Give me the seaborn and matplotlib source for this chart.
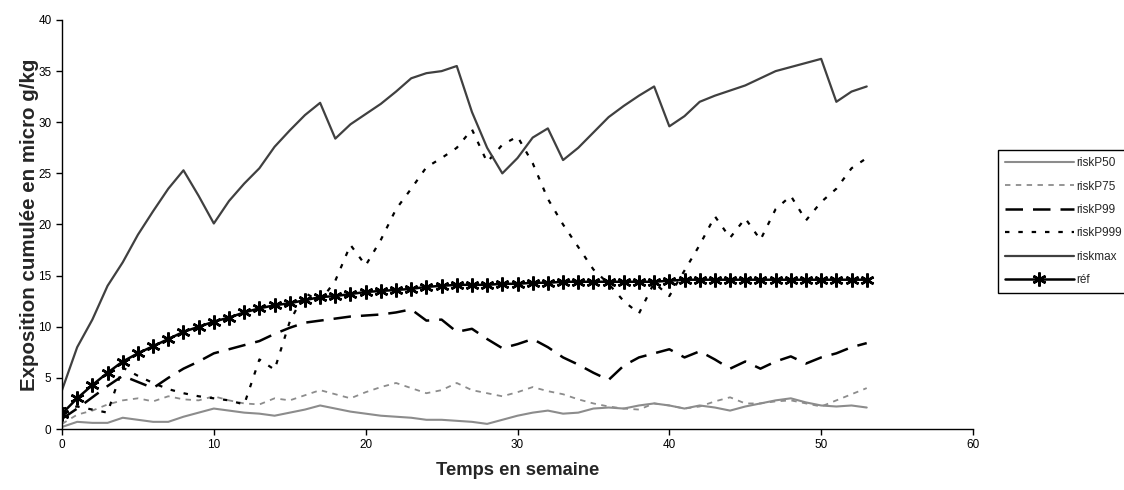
import matplotlib
matplotlib.use("Agg")
import matplotlib.pyplot as plt
import seaborn as sns
import numpy as np

weeks = list(range(54))

risk_p50 = [0.2, 0.7, 0.6, 0.6, 1.1, 0.9, 0.7, 0.7, 1.2, 1.6, 2.0, 1.8, 1.6, 1.5, 1.3, 1.6, 1.9, 2.3, 2.0, 1.7,
            1.5, 1.3, 1.2, 1.1, 0.9, 0.9, 0.8, 0.7, 0.5, 0.9, 1.3, 1.6, 1.8, 1.5, 1.6, 2.0, 2.1, 2.0, 2.3, 2.5,
            2.3, 2.0, 2.3, 2.1, 1.8, 2.2, 2.5, 2.8, 3.0, 2.6, 2.3, 2.2, 2.3, 2.1]
risk_p75 = [0.5, 1.4, 1.8, 2.4, 2.8, 3.0, 2.7, 3.2, 2.9, 2.8, 3.2, 2.8, 2.5, 2.4, 3.0, 2.8, 3.3, 3.8, 3.4, 3.0,
            3.6, 4.1, 4.5, 4.0, 3.5, 3.8, 4.5, 3.8, 3.5, 3.2, 3.6, 4.1, 3.7, 3.4, 2.9, 2.5, 2.2, 2.0, 1.9, 2.5,
            2.3, 2.0, 2.2, 2.7, 3.1, 2.5, 2.5, 2.7, 2.8, 2.5, 2.2, 2.8, 3.4, 4.0]
risk_p99 = [1.0, 2.0, 3.1, 4.2, 5.2, 4.6, 4.0, 5.0, 5.9, 6.6, 7.4, 7.8, 8.2, 8.6, 9.3, 9.9, 10.4, 10.6, 10.8, 11.0,
            11.1, 11.2, 11.4, 11.7, 10.6, 10.7, 9.5, 9.8, 8.8, 7.9, 8.3, 8.8, 8.0, 7.0, 6.3, 5.5, 4.8, 6.2, 7.0, 7.4,
            7.8, 7.0, 7.6, 6.8, 5.9, 6.6, 5.9, 6.6, 7.1, 6.4, 7.0, 7.4, 8.0, 8.4]
risk_p999 = [2.0, 2.2, 1.9, 1.6, 6.0, 5.2, 4.5, 3.9, 3.5, 3.2, 3.0, 2.8, 2.4, 6.8, 5.8, 10.5, 13.3, 12.5, 14.5, 18.0,
             16.0, 18.5, 21.5, 23.5, 25.6, 26.5, 27.5, 29.3, 26.1, 27.8, 28.6, 26.0, 22.5, 20.0, 17.8, 15.6, 14.2, 12.5, 11.3, 14.3,
             13.0, 15.5, 18.0, 20.8, 18.7, 20.6, 18.5, 21.5, 22.8, 20.4, 22.2, 23.5, 25.5, 26.5]
risk_max = [3.8, 8.0, 10.7, 14.0, 16.3, 19.0, 21.3, 23.5, 25.3, 22.8, 20.1, 22.3, 24.0, 25.5, 27.6, 29.2, 30.7, 31.9, 28.4, 29.8,
            30.8, 31.8, 33.0, 34.3, 34.8, 35.0, 35.5, 31.0, 27.5, 25.0, 26.5, 28.5, 29.4, 26.3, 27.5, 29.0, 30.5, 31.6, 32.6, 33.5,
            29.6, 30.6, 32.0, 32.6, 33.1, 33.6, 34.3, 35.0, 35.4, 35.8, 36.2, 32.0, 33.0, 33.5]
ref = [1.5, 3.0, 4.3, 5.5, 6.6, 7.4, 8.1, 8.8, 9.5, 10.0, 10.5, 10.9, 11.4, 11.8, 12.1, 12.3, 12.6, 12.9, 13.0, 13.2,
       13.4, 13.5, 13.6, 13.7, 13.9, 14.0, 14.1, 14.1, 14.1, 14.2, 14.2, 14.3, 14.3, 14.4, 14.4, 14.4, 14.4, 14.4, 14.4, 14.4,
       14.5, 14.6, 14.6, 14.6, 14.6, 14.6, 14.6, 14.6, 14.6, 14.6, 14.6, 14.6, 14.6, 14.6]

series_names = ["riskP50", "riskP75", "riskP99", "riskP999", "riskmax", "réf"]
x_ticks = [0, 10, 20, 30, 40, 50, 60]
y_ticks = [0, 5, 10, 15, 20, 25, 30, 35, 40]

sns.set_theme(style="ticks")
plt.rcParams["font.family"] = ["Liberation Sans", "DejaVu Sans"]

fig = plt.figure(figsize=(11.24, 4.90), dpi=100)
ax = fig.add_axes([62 / 1124, 1 - 429 / 490, (973 - 62) / 1124, (429 - 20) / 490])

styles = [
    dict(color="#8c8c8c", linestyle="-", linewidth=1.5),
    dict(color="#8c8c8c", linestyle=(0, (3, 3)), linewidth=1.3),
    dict(color="black", linestyle=(0, (7, 4)), linewidth=1.8),
    dict(color="black", linestyle=(0, (2, 4)), linewidth=1.6),
    dict(color="#404040", linestyle="-", linewidth=1.6),
    dict(color="black", linestyle="-", linewidth=1.8, marker=(6, 2, 0), markersize=10,
         markeredgewidth=1.8, markeredgecolor="black"),
]
data = [risk_p50, risk_p75, risk_p99, risk_p999, risk_max, ref]

for name, vals, st in zip(series_names, data, styles):
    sns.lineplot(x=weeks, y=vals, ax=ax, label=name, sort=False, errorbar=None, **st)

ax.set_xlim(0, 60)
ax.set_ylim(0, 40)
ax.set_xticks(x_ticks)
ax.set_yticks(y_ticks)
ax.tick_params(axis="both", labelsize=8.5, length=4, width=1, color="black", labelcolor="black", direction="out")
for s in ["left", "bottom"]:
    ax.spines[s].set_color("black")
    ax.spines[s].set_linewidth(1)
sns.despine(ax=ax)

ax.set_xlabel("Temps en semaine", fontsize=13.2, fontweight="bold")
ax.set_ylabel("Exposition cumulée en micro g/kg", fontsize=14.8, fontweight="bold")
ax.xaxis.set_label_coords(0.5, -(462 - 429) / 409)
ax.yaxis.set_label_coords(-(62 - 39) / 911, 0.5)

handles, labels = ax.get_legend_handles_labels()
leg = fig.legend(handles, labels, loc="upper left", bbox_to_anchor=(998 / 1124, 1 - 150 / 490),
                 fontsize=8.5, frameon=True, fancybox=False, edgecolor="black", framealpha=1,
                 handlelength=5.8, handletextpad=0.2, labelspacing=0.97, borderpad=0.6,
                 borderaxespad=0)
leg.get_frame().set_linewidth(1)
if ax.get_legend() is not None:
    ax.get_legend().remove()

fig.savefig("out.png", dpi=100)
